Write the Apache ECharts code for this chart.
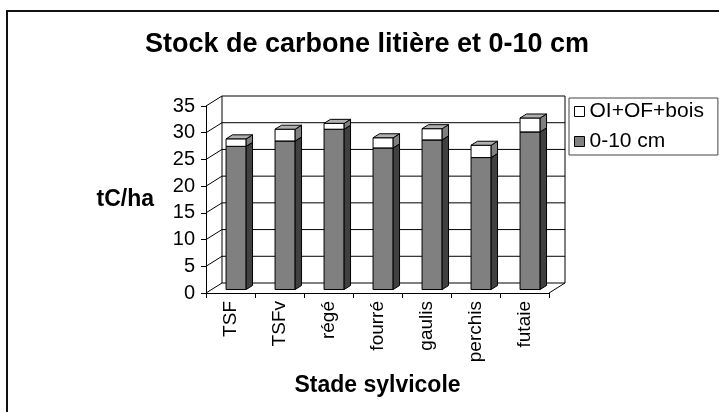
<!DOCTYPE html>
<html lang="fr">

<head>
  <meta charset="UTF-8">
  <title>Stock de carbone</title>
  <style>
    html, body { margin: 0; padding: 0; background: #fff; }
  </style>
</head>

<body>
  <div id="main" style="width: 719px;height:412px;"></div>
  <script src="https://cdn.jsdelivr.net/npm/echarts@6/dist/echarts.min.js"></script>
  <script>
    const categories = ['TSF', 'TSFv', 'régé', 'fourré', 'gaulis', 'perchis', 'futaie'];
    const sol = [26.8, 27.8, 30.0, 26.5, 28.0, 24.7, 29.5];      // 0-10 cm
    const litiere = [1.4, 2.2, 1.1, 1.9, 2.1, 2.3, 2.6];         // OI+OF+bois
    const yTicks = [0, 5, 10, 15, 20, 25, 30, 35];

    const FONT = 'Liberation Sans, Arial, sans-serif';
    // profondeur de la vue 3D (décalage du mur du fond)
    const DX = 16, DY = -10;
    const F_FRONT = 0.35, F_BACK = 0.75;

    const solData = sol.map((v, i) => [i, 0, v]);
    const litData = litiere.map((v, i) => [i, sol[i], sol[i] + v]);

    // murs et sol de la vue 3D
    function renderWalls(params, api) {
      const cs = params.coordSys;
      const v = api.value(0);
      const y = api.coord([0, v])[1];
      const lineStyle = { stroke: '#000', lineWidth: 1 };
      const children = [
        { type: 'line', shape: { x1: cs.x, y1: y, x2: cs.x + DX, y2: y + DY }, style: lineStyle },
        { type: 'line', shape: { x1: cs.x + DX, y1: y + DY, x2: cs.x + cs.width + DX, y2: y + DY }, style: lineStyle }
      ];
      if (v === 0) {
        const yTop = api.coord([0, yTicks[yTicks.length - 1]])[1];
        children.push(
          { type: 'line', shape: { x1: cs.x + cs.width, y1: y, x2: cs.x + cs.width + DX, y2: y + DY }, style: lineStyle },
          { type: 'line', shape: { x1: cs.x + DX, y1: y + DY, x2: cs.x + DX, y2: yTop + DY }, style: lineStyle },
          { type: 'line', shape: { x1: cs.x + cs.width + DX, y1: y + DY, x2: cs.x + cs.width + DX, y2: yTop + DY }, style: lineStyle }
        );
      }
      return { type: 'group', children: children };
    }

    function makeBarRenderer(front, side, top) {
      return function (params, api) {
        const i = api.value(0), lo = api.value(1), hi = api.value(2);
        const p0 = api.coord([i, lo]), p1 = api.coord([i, hi]);
        const bw = api.size([1, 0])[0] * 0.41;
        const fx = DX * F_FRONT, fy = DY * F_FRONT;
        const ox = DX * (F_BACK - F_FRONT), oy = DY * (F_BACK - F_FRONT);
        const x0 = p0[0] - bw / 2 + fx, x1 = x0 + bw;
        const yb = p0[1] + fy, yt = p1[1] + fy;
        const edge = { stroke: '#000', lineWidth: 1 };
        return {
          type: 'group',
          children: [
            { type: 'rect', shape: { x: x0, y: yt, width: bw, height: yb - yt }, style: Object.assign({ fill: front }, edge) },
            { type: 'polygon', shape: { points: [[x1, yb], [x1, yt], [x1 + ox, yt + oy], [x1 + ox, yb + oy]] }, style: Object.assign({ fill: side }, edge) },
            { type: 'polygon', shape: { points: [[x0, yt], [x1, yt], [x1 + ox, yt + oy], [x0 + ox, yt + oy]] }, style: Object.assign({ fill: top }, edge) }
          ]
        };
      };
    }

    const myChart = echarts.init(document.getElementById('main'));

    const option = {
      animation: false,
      backgroundColor: '#fff',
      textStyle: { fontFamily: FONT, color: '#000' },
      graphic: [{
        type: 'rect',
        z: -1,
        shape: { x: 7, y: 11, width: 760, height: 450 },
        style: { fill: 'none', stroke: '#111', lineWidth: 2 }
      }],
      title: {
        text: 'Stock de carbone litière et 0-10 cm',
        left: 362,
        top: 26,
        textAlign: 'center',
        textStyle: { fontFamily: FONT, fontSize: 27, fontWeight: 'bold', color: '#000' }
      },
      legend: {
        orient: 'vertical',
        left: 569,
        top: 98,
        padding: [3, 14, 3, 5],
        itemGap: 9,
        itemWidth: 10,
        itemHeight: 10,
        icon: 'rect',
        borderColor: '#444',
        borderWidth: 1,
        backgroundColor: '#fff',
        textStyle: { fontFamily: FONT, fontSize: 21, color: '#000' },
        data: [
          { name: 'OI+OF+bois', itemStyle: { color: '#fff', borderColor: '#000', borderWidth: 1 } },
          { name: '0-10 cm', itemStyle: { color: '#808080', borderColor: '#000', borderWidth: 1 } }
        ]
      },
      grid: {
        left: 206,
        right: 170,
        top: 106,
        bottom: 119
      },
      xAxis: {
        type: 'category',
        data: categories,
        name: 'Stade sylvicole',
        nameLocation: 'middle',
        nameGap: 81,
        nameTextStyle: { fontFamily: FONT, fontSize: 23, fontWeight: 'bold', color: '#000' },
        axisLine: { lineStyle: { color: '#000', width: 1 } },
        axisTick: { show: true, alignWithLabel: false, length: 5, lineStyle: { color: '#000' } },
        axisLabel: { rotate: 90, margin: 8, fontFamily: FONT, fontSize: 19, color: '#000' },
        splitLine: { show: false }
      },
      yAxis: {
        type: 'value',
        min: 0,
        max: 35,
        interval: 5,
        name: 'tC/ha',
        nameLocation: 'middle',
        nameRotate: 0,
        nameGap: 52,
        nameTextStyle: { fontFamily: FONT, fontSize: 23, fontWeight: 'bold', color: '#000' },
        axisLine: { show: true, lineStyle: { color: '#000', width: 1 } },
        axisTick: { show: true, length: 5, lineStyle: { color: '#000' } },
        axisLabel: { margin: 11, fontFamily: FONT, fontSize: 20, color: '#000' },
        splitLine: { show: false }
      },
      series: [{
        name: 'murs',
        type: 'custom',
        silent: true,
        z: 1,
        renderItem: renderWalls,
        encode: { y: 0 },
        data: yTicks.map(v => [v])
      }, {
        name: '0-10 cm',
        type: 'custom',
        z: 2,
        itemStyle: { color: '#808080' },
        renderItem: makeBarRenderer('#808080', '#404040', '#606060'),
        encode: { x: 0, y: [1, 2] },
        data: solData
      }, {
        name: 'OI+OF+bois',
        type: 'custom',
        z: 3,
        itemStyle: { color: '#fff' },
        renderItem: makeBarRenderer('#ffffff', '#808080', '#b0b0b0'),
        encode: { x: 0, y: [1, 2] },
        data: litData
      }]
    };

    myChart.setOption(option);
  </script>
</body>

</html>
